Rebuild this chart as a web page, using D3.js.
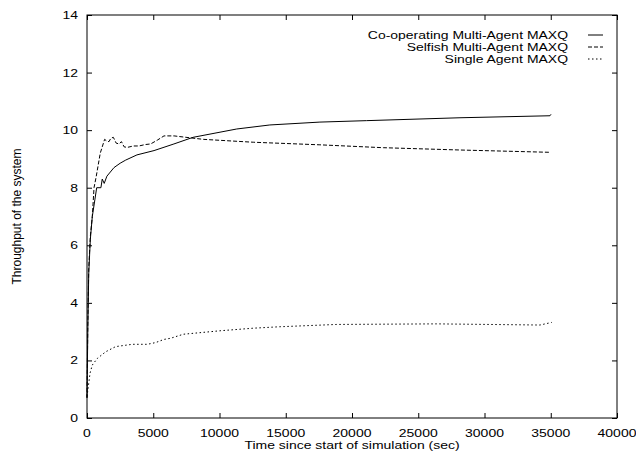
<!DOCTYPE html>
<html>
<head>
<meta charset="utf-8">
<script src="https://cdn.jsdelivr.net/npm/d3@7"></script>
<style>
  body { margin: 0; background: #fff; }
  svg { display: block; font-family: "Liberation Sans", Arial, sans-serif; }
</style>
</head>
<body>
<svg id="chart" width="636" height="455"></svg>
<script>
// data: [time (sec), throughput]
var coopData = [
  [0, 0.7], [60, 3.0], [130, 5.0], [250, 6.2], [400, 7.0], [600, 7.6], [730, 8.0],
  [1050, 8.0], [1150, 8.3], [1300, 8.15], [1500, 8.4], [2040, 8.7], [2500, 8.85],
  [2920, 8.96], [3770, 9.14], [5060, 9.29], [6560, 9.52], [8000, 9.75], [11300, 10.04],
  [13800, 10.18], [17580, 10.28], [21100, 10.33], [28150, 10.43], [34940, 10.5], [35020, 10.55]
]
var selfishData = [
  [0, 0.7], [60, 3.2], [130, 5.2], [250, 6.3], [400, 7.0], [530, 8.0], [700, 8.4],
  [1000, 9.2], [1330, 9.68], [1500, 9.62], [1660, 9.6], [1800, 9.72], [1990, 9.75],
  [2200, 9.55], [2415, 9.52], [2600, 9.6], [2800, 9.42], [3040, 9.4], [3500, 9.45],
  [3920, 9.45], [4400, 9.5], [4800, 9.52], [5300, 9.65], [5810, 9.8], [6570, 9.8],
  [8780, 9.68], [12550, 9.58], [17580, 9.49], [22360, 9.39], [28150, 9.31], [34940, 9.23]
]
var singleData = [
  [0, 0.74], [230, 1.56], [400, 1.84], [780, 2.07], [1410, 2.3], [2160, 2.48],
  [3420, 2.56], [4550, 2.56], [5180, 2.62], [5810, 2.73], [6310, 2.77], [7270, 2.91],
  [10040, 3.03], [12550, 3.12], [14560, 3.17], [18840, 3.25], [26390, 3.27],
  [34190, 3.23], [35070, 3.32]
]
var seriesNames = ['Co-operating Multi-Agent MAXQ', 'Selfish Multi-Agent MAXQ', 'Single Agent MAXQ']
var xTicks = [0, 5000, 10000, 15000, 20000, 25000, 30000, 35000, 40000]
var yTicks = [0, 2, 4, 6, 8, 10, 12, 14]

var plotLeft = 87, plotRight = 617, plotTop = 15, plotBottom = 418
var stretch = 1.27 // the original text is wider than it is tall
var svg = d3.select('#chart')
var x = d3.scaleLinear().domain([0, 40000]).range([plotLeft, plotRight])
var y = d3.scaleLinear().domain([0, 14]).range([plotBottom, plotTop])

var series = [
  { name: seriesNames[0], data: coopData, dash: null },
  { name: seriesNames[1], data: selfishData, dash: '4,2' },
  { name: seriesNames[2], data: singleData, dash: '1.5,2.5' }
]

function at(px, py) {
  return 'translate(' + px + ',' + py + ') scale(' + stretch + ',1)'
}

// axes with inward ticks, mirrored like gnuplot
svg.append('g').attr('transform', 'translate(0,' + plotBottom + ')')
  .call(d3.axisTop(x).tickValues(xTicks).tickSize(5).tickFormat(''))
svg.append('g').attr('transform', 'translate(0,' + plotTop + ')')
  .call(d3.axisBottom(x).tickValues(xTicks).tickSize(5).tickFormat(''))
svg.append('g').attr('transform', 'translate(' + plotLeft + ',0)')
  .call(d3.axisRight(y).tickValues(yTicks).tickSize(5).tickFormat(''))
svg.append('g').attr('transform', 'translate(' + plotRight + ',0)')
  .call(d3.axisLeft(y).tickValues(yTicks).tickSize(5).tickFormat(''))
svg.selectAll('.domain').remove()
svg.selectAll('.tick text').remove()
svg.selectAll('.tick line').attr('stroke', '#000')

// tick labels
svg.append('g').selectAll('text').data(xTicks).join('text')
  .attr('transform', d => at(x(d), plotBottom + 19))
  .attr('text-anchor', 'middle').attr('font-size', 11).text(d => d)
svg.append('g').selectAll('text').data(yTicks).join('text')
  .attr('transform', d => at(plotLeft - 9, y(d) + 4))
  .attr('text-anchor', 'end').attr('font-size', 11).text(d => d)

// border
svg.append('rect').attr('x', plotLeft).attr('y', plotTop)
  .attr('width', plotRight - plotLeft).attr('height', plotBottom - plotTop)
  .attr('fill', 'none').attr('stroke', '#000').attr('stroke-width', 1)

// axis titles
svg.append('text').attr('transform', at((plotLeft + plotRight) / 2, 449))
  .attr('text-anchor', 'middle').attr('font-size', 11)
  .text('Time since start of simulation (sec)')
svg.append('text').attr('transform', 'translate(21,' + ((plotTop + plotBottom) / 2) + ') rotate(-90)')
  .attr('text-anchor', 'middle').attr('font-size', 12)
  .text('Throughput of the system')

// curves
var line = d3.line().x(d => x(d[0])).y(d => y(d[1]))
svg.append('g').selectAll('path').data(series).join('path')
  .attr('d', d => line(d.data))
  .attr('fill', 'none').attr('stroke', '#000').attr('stroke-width', 1)
  .attr('stroke-dasharray', d => d.dash)

// legend
var legend = svg.append('g').selectAll('g').data(series).join('g')
  .attr('transform', (d, i) => 'translate(0,' + (35 + i * 12) + ')')
legend.append('text').attr('transform', at(568, 4))
  .attr('text-anchor', 'end').attr('font-size', 11).text(d => d.name)
legend.append('line').attr('x1', 588).attr('x2', 603)
  .attr('stroke', '#000').attr('stroke-dasharray', d => d.dash)
</script>
</body>
</html>
